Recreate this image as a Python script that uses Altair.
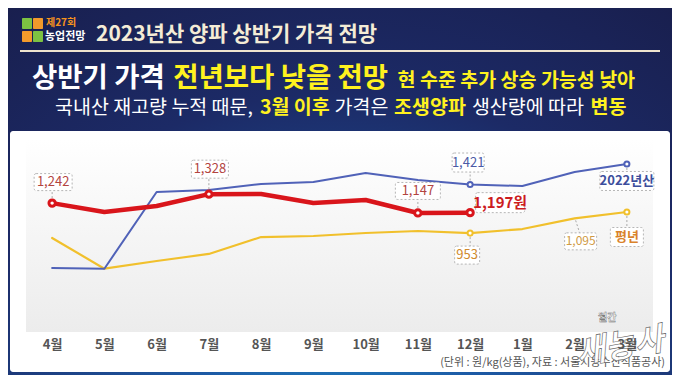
import json
import altair as alt
import pandas as pd

FONT = "Noto Sans CJK KR"

# ---------------- data ----------------
months = ["4월", "5월", "6월", "7월", "8월", "9월", "10월", "11월", "12월", "1월", "2월", "3월"]
series_names = ["평년", "2022년산", "2023년산"]
price_avg = [906, 610, 684, 752, 915, 925, 954, 973, 953, 992, 1095, 1156]
price_2022 = [617, 610, 1349, 1368, 1426, 1445, 1532, 1465, 1421, 1407, 1542, 1619]
price_2023 = [1242, 1156, 1214, 1328, 1330, 1243, 1272, 1147, 1150]

annot_series = ["2023년산", "2023년산", "2023년산", "2023년산", "2022년산", "2022년산", "평년", "평년", "평년"]
annot_idx = [0, 3, 7, 8, 8, 11, 8, 10, 11]
annot_text = ["1,242", "1,328", "1,147", "1,197원", "1,421", "2022년산", "953", "1,095", "평년"]

marker_series = ["2023년산", "2023년산", "2023년산", "2023년산", "2022년산", "2022년산", "평년", "평년"]
marker_idx = [0, 3, 7, 8, 8, 11, 8, 11]

title_text = "2023년산 양파 상반기 가격 전망"
logo_top = "제27회"
logo_bottom = "농업전망"
head1 = ["상반기 가격", "전년보다 낮을 전망", "현 수준 추가 상승 가능성 낮아"]
head2 = ["국내산 재고량 누적 때문,", "3월 이후", "가격은", "조생양파", "생산량에 따라", "변동"]
source_text = "(단위 : 원/kg(상품), 자료 : 서울시농수산식품공사)"
watermark_small = "월간"
watermark_big = "새농사"

# ---------------- build tables ----------------
values = {"평년": price_avg, "2022년산": price_2022, "2023년산": price_2023}
rows = []
for s in series_names:
    for i, v in enumerate(values[s]):
        rows.append({"idx": i, "month": months[i], "series": s, "value": v})
df = pd.DataFrame(rows)

# ---------------- styles / layout ----------------
W, H = 627, 192
OX, OY = 26, 140  # plot origin in page coordinates


def px(x):
    return x - OX


def py(y):
    return y - OY


def est_width(s, size):
    w = 0.0
    for ch in s:
        if ch == " ":
            w += 0.22
        elif ch.isdigit():
            w += 0.55
        elif ch in ",.":
            w += 0.25
        else:
            w += 0.935
    return w * size


line_style = {
    "평년": dict(color="#f1c02c", strokeWidth=2.2),
    "2022년산": dict(color="#5062b8", strokeWidth=2),
    "2023년산": dict(color="#d9151b", strokeWidth=4.5),
}
marker_style = {
    "평년": dict(size=26, strokeWidth=2),
    "2022년산": dict(size=26, strokeWidth=2),
    "2023년산": dict(size=40, strokeWidth=3),
}
# dx, dy (center of box from point), w, h, text colour, size, weight, leader
annot_style = [
    dict(dx=1, dy=-21, w=38, h=17, color="#b3443f", size=13, weight="normal", lead=(0, -5, 0, -12.5)),
    dict(dx=1, dy=-25, w=37, h=18, color="#b3443f", size=13, weight="normal", lead=(0, -5, 0, -16)),
    dict(dx=0, dy=-22, w=45, h=17, color="#b3443f", size=13, weight="normal", lead=(0, -5, 0, -13.5)),
    dict(dx=30, dy=-10, w=49, h=20, color="#cc1c1e", size=15, weight="bold", lead=None),
    dict(dx=-2, dy=-22, w=32, h=19, color="#4b5aa6", size=13, weight="normal", lead=(0, -4, 0, -12.5)),
    dict(dx=0, dy=17, w=54, h=19, color="#3d4e9c", size=13, weight="bold", lead=(0, 4, 0, 7.5)),
    dict(dx=-3, dy=22, w=25, h=18, color="#d08a2c", size=13, weight="normal", lead=(0, 4, 0, 13)),
    dict(dx=6, dy=23, w=32, h=17, color="#cf9a45", size=12, weight="normal", lead=(1, 2, 5, 14.5)),
    dict(dx=0, dy=25, w=33, h=19, color="#d9822b", size=13, weight="bold", lead=(0, 4, 0, 15.5)),
]

label_expr = json.dumps(months, ensure_ascii=False) + "[datum.value]"
x_enc = alt.X(
    "idx:Q",
    scale=alt.Scale(domain=[-0.5, 11.5], nice=False, zero=False),
    axis=alt.Axis(
        values=list(range(12)), labelExpr=label_expr, title=None, domain=False,
        ticks=False, tickSize=0, grid=False, labelPadding=6, labelFontSize=13,
        labelFontWeight="bold", labelColor="#555555", labelFont=FONT, zindex=1,
    ),
)
y_enc = alt.Y("value:Q", scale=alt.Scale(domain=[0, 1850], nice=False), axis=None)

dummy = pd.DataFrame({"a": [0]})
layers = []


def rect(x0, x1, y0, y1, **kw):
    return alt.Chart(dummy).mark_rect(**kw).encode(
        x=alt.value(x0), x2=alt.value(x1), y=alt.value(y0), y2=alt.value(y1)
    )


def txt(text, x, y, size, color, weight="bold", align="left", baseline="middle", **kw):
    return alt.Chart(dummy).mark_text(
        text=text, fontSize=size, color=color, fontWeight=weight, align=align,
        baseline=baseline, font=FONT, **kw
    ).encode(x=alt.value(x), y=alt.value(y))


# page background
layers.append(rect(-18, 646, -132, 235, fill=alt.RadialGradient(
    gradient="radial",
    stops=[alt.GradientStop(color="#19a3da", offset=0),
           alt.GradientStop(color="#1d5aa5", offset=0.3),
           alt.GradientStop(color="#1c2a66", offset=0.65),
           alt.GradientStop(color="#181c48", offset=1)],
    x1=0.5, y1=1.0, r1=0, x2=0.5, y2=1.0, r2=1.0)))
# white panel
layers.append(rect(px(10), px(670), py(131), py(372), fill="white", cornerRadius=3))
# plot area gradient
layers.append(rect(0, W, 0, H, fill=alt.LinearGradient(
    gradient="linear",
    stops=[alt.GradientStop(color="#ffffff", offset=0),
           alt.GradientStop(color="#f8f8f8", offset=0.35),
           alt.GradientStop(color="#ececec", offset=1)],
    x1=0, y1=0, x2=0, y2=1)))
# header rule
layers.append(alt.Chart(dummy).mark_rule(color="#efe4cf", strokeWidth=2).encode(
    x=alt.value(px(20)), x2=alt.value(px(660)), y=alt.value(py(51))))
# logo tiles
layers.append(rect(px(22), px(32), py(18), py(29), fill="#7dc242", cornerRadius=1))
layers.append(rect(px(33), px(43), py(18), py(29), fill="#f39a2b", cornerRadius=1))
layers.append(rect(px(22), px(32), py(31), py(42), fill="#f39a2b", cornerRadius=1))
layers.append(rect(px(33), px(43), py(31), py(42), fill="#7dc242", cornerRadius=1))
layers.append(txt(logo_top, px(46), py(23), 10, "#f7941d"))
layers.append(txt(logo_bottom, px(45), py(37), 11, "#ffffff"))
# title
layers.append(txt(title_text, px(96), py(35), 21, "#f4ecd6"))

# headline 1 (segments chained by estimated widths)
h1_size = [27.5, 27.5, 19.5]
h1_col = ["#ffffff", "#fff21f", "#fff21f"]
xcur = 32
for t, sz, cc in zip(head1, h1_size, h1_col):
    layers.append(txt(t, px(xcur), py(87), sz, cc, baseline="alphabetic"))
    xcur += est_width(t, sz) + 0.24 * sz
# headline 2
h2_size = 19.5
h2_col = ["#ffffff", "#fff21f", "#ffffff", "#fff21f", "#ffffff", "#fff21f"]
h2_w = ["normal", "bold", "normal", "bold", "normal", "bold"]
xcur = 55
for t, cc, ww in zip(head2, h2_col, h2_w):
    layers.append(txt(t, px(xcur), py(114), h2_size, cc, weight=ww, baseline="alphabetic"))
    xcur += est_width(t, h2_size) + 0.25 * h2_size

# data lines
for s in series_names:
    st = line_style[s]
    layers.append(
        alt.Chart(df).transform_filter(alt.datum.series == s)
        .mark_line(color=st["color"], strokeWidth=st["strokeWidth"], strokeJoin="round", strokeCap="round")
        .encode(x=x_enc, y=y_enc, order="idx:Q")
    )

# annotations
for s, i, t, st in zip(annot_series, annot_idx, annot_text, annot_style):
    row = pd.DataFrame([{"idx": i, "series": s, "value": values[s][i]}])
    base = alt.Chart(row)
    if st["lead"] is not None:
        x0, y0, x1, y1 = st["lead"]
        layers.append(base.mark_rule(color="#a8a8a8", strokeWidth=1, strokeDash=[2, 2],
                                     xOffset=x0, yOffset=y0, x2Offset=x1, y2Offset=y1)
                      .encode(x=x_enc, x2="idx:Q", y=y_enc, y2="value:Q"))
    layers.append(base.mark_rect(fill="white", stroke="#b5b5b5", strokeWidth=1, strokeDash=[2, 2],
                                 cornerRadius=2,
                                 xOffset=st["dx"] - st["w"] / 2, x2Offset=st["dx"] + st["w"] / 2,
                                 yOffset=st["dy"] - st["h"] / 2, y2Offset=st["dy"] + st["h"] / 2)
                  .encode(x=x_enc, x2="idx:Q", y=y_enc, y2="value:Q"))
    layers.append(base.mark_text(text=t, dx=st["dx"], dy=st["dy"], fontSize=st["size"],
                                 fontWeight=st["weight"], color=st["color"], font=FONT,
                                 align="center", baseline="middle")
                  .encode(x=x_enc, y=y_enc))

# markers
for s in series_names:
    idxs = [i for ms, i in zip(marker_series, marker_idx) if ms == s]
    mdf = pd.DataFrame([{"idx": i, "series": s, "value": values[s][i]} for i in idxs])
    layers.append(alt.Chart(mdf).mark_point(
        shape="circle", filled=True, fill="white", stroke=line_style[s]["color"],
        strokeWidth=marker_style[s]["strokeWidth"], size=marker_style[s]["size"], opacity=1)
        .encode(x=x_enc, y=y_enc))

# source note
layers.append(txt(source_text, px(665), py(363), 11, "#555555", weight="normal", align="right"))
# watermark
layers.append(txt(watermark_small, px(598), py(318), 10, "#ffffff", stroke="#666666", strokeWidth=0.4))
layers.append(txt(watermark_big, px(620), py(347), 32, "#ffffff", align="center",
                  fontStyle="italic", angle=350, stroke="#555555", strokeWidth=0.6, opacity=0.95))

chart = alt.layer(*layers).properties(
    width=W, height=H,
    padding={"left": 18, "top": 132, "right": 19, "bottom": 43},
    autosize=alt.AutoSizeParams(type="none"),
    background="#181c48",
).configure_view(strokeWidth=0).configure(font=FONT)

chart.save("out.html", embed_options={"renderer": "svg", "actions": False})
